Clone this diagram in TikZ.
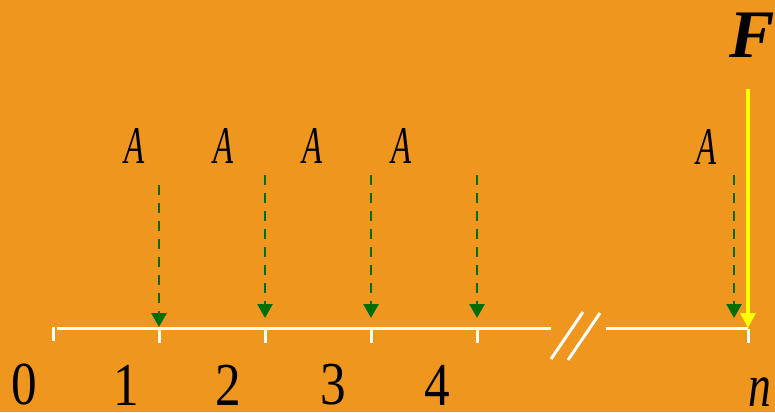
\documentclass[tikz,border=0pt]{standalone}
\usepackage{fontspec}
\setmainfont{Liberation Serif}
\usetikzlibrary{arrows.meta}
\definecolor{bgorange}{RGB}{239,150,30}
\definecolor{dgreen}{RGB}{0,110,0}
\definecolor{yel}{RGB}{255,255,0}
\begin{document}
\begin{tikzpicture}[x=1pt,y=-1pt,
  axisline/.style={white,line width=3pt},
  tickmark/.style={white,line width=3pt},
  payarrow/.style={dgreen,line width=2.7pt,dash pattern=on 10pt off 8pt,-{Triangle[width=15pt,length=14pt]}},
  farrow/.style={yel,line width=3.2pt,-{Triangle[width=15pt,length=15pt]}},
  numlabel/.style={inner sep=0pt,font=\fontsize{61}{61}\selectfont,xscale=0.84},
  alabel/.style={inner sep=0pt,font=\fontsize{53}{53}\selectfont\itshape,xscale=0.62}]
\useasboundingbox (0,0) rectangle (775,412);
\fill[bgorange] (0,0) rectangle (775,412);
% axis coordinates
\coordinate (t0) at (53,328.5);
\coordinate (t1) at (159,328.5);
\coordinate (t2) at (265,328.5);
\coordinate (t3) at (371,328.5);
\coordinate (t4) at (477,328.5);
\coordinate (tn) at (748,328.5);
\coordinate (ls) at (57,328.5);
\coordinate (le) at (551,328.5);
\coordinate (rs) at (606,328.5);
% axis
\draw[axisline] (ls) -- (le);
\draw[axisline] (rs) -- (tn);
\draw[white,line width=3pt] (551,359) -- (583,312);
\draw[white,line width=3pt] (568,360) -- (600,313);
\draw[tickmark] ([yshift=1.5pt]t0) -- ++(0,14);
\foreach \i in {t1,t2,t3,t4,tn} \draw[tickmark] (\i) -- ++(0,14);
% payment arrows
\coordinate (a1s) at (159,185); \coordinate (a1e) at (159,327);
\coordinate (a2s) at (265,175); \coordinate (a2e) at (265,318);
\coordinate (a3s) at (371,175); \coordinate (a3e) at (371,318);
\coordinate (a4s) at (477,175); \coordinate (a4e) at (477,318);
\coordinate (ans) at (734,175); \coordinate (ane) at (734,318);
\draw[payarrow] (a1s) -- (a1e);
\draw[payarrow] (a2s) -- (a2e);
\draw[payarrow] (a3s) -- (a3e);
\draw[payarrow] (a4s) -- (a4e);
\draw[payarrow] (ans) -- (ane);
% future value arrow
\coordinate (fs) at (748,89); \coordinate (fe) at (748,328);
\draw[farrow] (fs) -- (fe);
% labels
\node[alabel] (A1) at (135,146) {A};
\node[alabel] (A2) at (224,146) {A};
\node[alabel] (A3) at (313,146) {A};
\node[alabel] (A4) at (402,146) {A};
\node[alabel] (A5) at (707,147) {A};
\node[inner sep=0pt,font=\fontsize{68}{68}\selectfont\bfseries\itshape,anchor=west] (F) at (729,35) {F};
\node[numlabel] (n0) at (24,385) {0};
\node[numlabel] (n1) at (126,385) {1};
\node[numlabel] (n2) at (228,385) {2};
\node[numlabel] (n3) at (333,385) {3};
\node[numlabel] (n4) at (437,385) {4};
\node[inner sep=0pt,font=\fontsize{61}{61}\selectfont\itshape,xscale=0.75] (nn) at (760,392) {n};
\end{tikzpicture}
\end{document}
